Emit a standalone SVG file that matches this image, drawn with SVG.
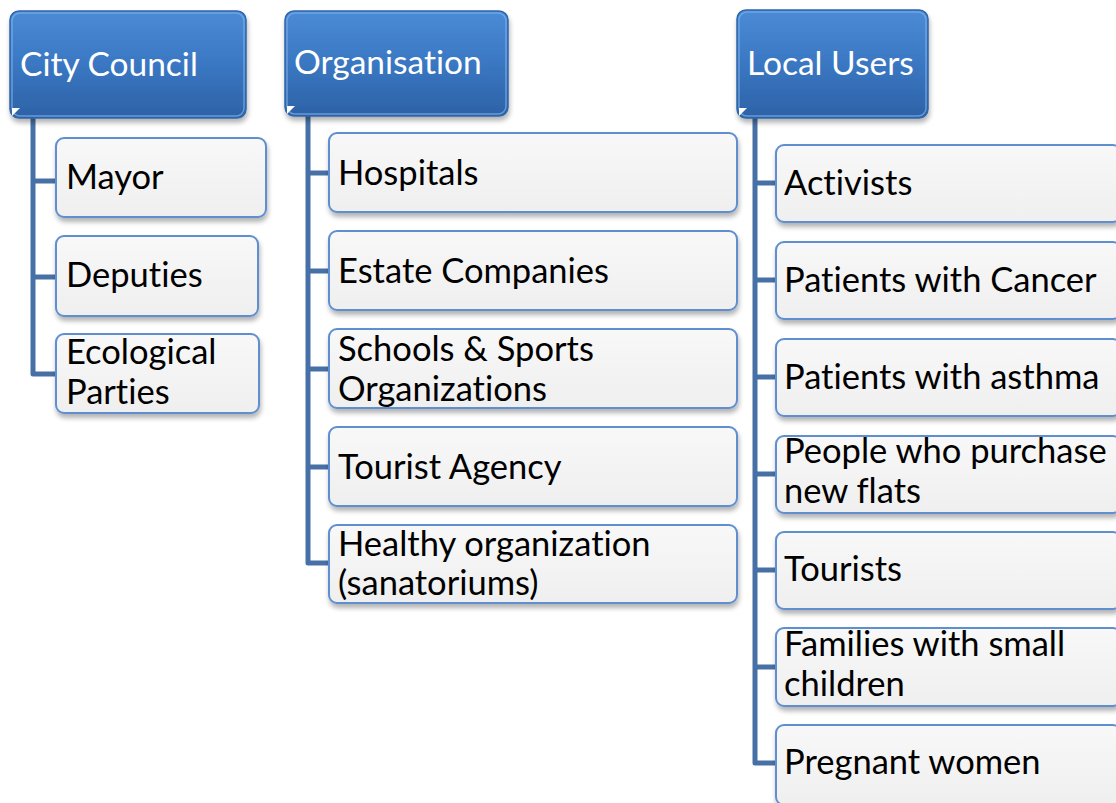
<svg xmlns="http://www.w3.org/2000/svg" width="1116" height="803" viewBox="0 0 1116 803">
  <defs>
    <linearGradient id="hdrFill" x1="0" y1="0" x2="0" y2="1">
      <stop offset="0" stop-color="#4b8bd6"/>
      <stop offset="0.5" stop-color="#3a77c2"/>
      <stop offset="1" stop-color="#2d62a6"/>
    </linearGradient>
    <linearGradient id="itemFill" x1="0" y1="0" x2="0" y2="1">
      <stop offset="0" stop-color="#f8f8f8"/>
      <stop offset="1" stop-color="#efefef"/>
    </linearGradient>
    <filter id="shadow" x="-10%" y="-10%" width="120%" height="130%">
      <feGaussianBlur in="SourceAlpha" stdDeviation="2.5"/>
      <feOffset dx="1" dy="4" result="b"/>
      <feComponentTransfer><feFuncA type="linear" slope="0.3"/></feComponentTransfer>
      <feMerge><feMergeNode/><feMergeNode in="SourceGraphic"/></feMerge>
    </filter>
    <style>
      text { font-variant-ligatures: none; font-feature-settings: "liga" 0, "clig" 0; }
      .hdr rect.box { fill: url(#hdrFill); stroke: #2f66aa; stroke-width: 1.5; filter: url(#shadow); }
      .hdr rect.gloss { fill: none; stroke: #7fb0ea; stroke-width: 1.5; opacity: 0.7; }
      .hdr path.notch { fill: #ffffff; }
      .hdr text { font-family: Lato, "Liberation Sans", sans-serif; font-size: 33.5px; fill: #ffffff; }
      .item rect { fill: url(#itemFill); stroke: #5e8fd0; stroke-width: 2; filter: url(#shadow); }
      .item text { font-family: Lato, "Liberation Sans", sans-serif; font-size: 34.5px; fill: #000000; }
      .links path { fill: none; stroke: #4670a6; stroke-width: 5; stroke-linejoin: round; }
    </style>
  </defs>
  <rect width="1116" height="803" fill="#ffffff"/>

  <!-- tree connectors -->
  <g id="connectors" class="links">
    <path d="M33 118 V374 H56 M33 181 H56 M33 277 H56"/>
    <path d="M308 116 V563 H329 M308 173 H329 M308 271 H329 M308 369 H329 M308 467 H329"/>
    <path d="M755 118 V763 H776 M755 183 H776 M755 280 H776 M755 377 H776 M755 474 H776 M755 570 H776 M755 667 H776"/>
  </g>

  <!-- column headers -->
  <g id="city-council" class="hdr">
    <rect class="box" x="10" y="11" width="236" height="107" rx="9"/>
    <rect class="gloss" x="12" y="13" width="232" height="103" rx="8"/>
    <path class="notch" d="M12 116 L12 108 L20 108 Z"/>
    <text x="20" y="76">City Council</text>
  </g>
  <g id="organisation" class="hdr">
    <rect class="box" x="285" y="11" width="223" height="105" rx="9"/>
    <rect class="gloss" x="287" y="13" width="219" height="101" rx="8"/>
    <path class="notch" d="M287 114 L287 106 L295 106 Z"/>
    <text x="294" y="74">Organisation</text>
  </g>
  <g id="local-users" class="hdr">
    <rect class="box" x="737" y="10" width="191" height="108" rx="9"/>
    <rect class="gloss" x="739" y="12" width="187" height="104" rx="8"/>
    <path class="notch" d="M739 116 L739 108 L747 108 Z"/>
    <text x="747" y="75">Local Users</text>
  </g>

  <!-- City Council members -->
  <g id="mayor" class="item">
    <rect x="56" y="138" width="210" height="79" rx="8"/>
    <text x="66" y="189">Mayor</text>
  </g>
  <g id="deputies" class="item">
    <rect x="56" y="236" width="202" height="80" rx="8"/>
    <text x="66" y="287">Deputies</text>
  </g>
  <g id="ecological-parties" class="item">
    <rect x="56" y="334" width="203" height="79" rx="8"/>
    <text x="66" y="364">Ecological</text>
    <text x="66" y="404">Parties</text>
  </g>

  <!-- Organisations -->
  <g id="hospitals" class="item">
    <rect x="329" y="133" width="408" height="79" rx="8"/>
    <text x="338" y="185">Hospitals</text>
  </g>
  <g id="estate-companies" class="item">
    <rect x="329" y="231" width="408" height="79" rx="8"/>
    <text x="338" y="283">Estate Companies</text>
  </g>
  <g id="schools-sports" class="item">
    <rect x="329" y="329" width="408" height="79" rx="8"/>
    <text x="338" y="361">Schools &amp; Sports</text>
    <text x="338" y="401">Organizations</text>
  </g>
  <g id="tourist-agency" class="item">
    <rect x="329" y="427" width="408" height="79" rx="8"/>
    <text x="338" y="479">Tourist Agency</text>
  </g>
  <g id="healthy-organization" class="item">
    <rect x="329" y="525" width="408" height="78" rx="8"/>
    <text x="338" y="556">Healthy organization</text>
    <text x="338" y="595">(sanatoriums)</text>
  </g>

  <!-- Local users -->
  <g id="activists" class="item">
    <rect x="776" y="145" width="345" height="77" rx="8"/>
    <text x="784" y="195">Activists</text>
  </g>
  <g id="patients-cancer" class="item">
    <rect x="776" y="242" width="345" height="77" rx="8"/>
    <text x="784" y="292">Patients with Cancer</text>
  </g>
  <g id="patients-asthma" class="item">
    <rect x="776" y="339" width="345" height="77" rx="8"/>
    <text x="784" y="389">Patients with asthma</text>
  </g>
  <g id="new-flats" class="item">
    <rect x="776" y="436" width="345" height="77" rx="8"/>
    <text x="784" y="463">People who purchase</text>
    <text x="784" y="503">new flats</text>
  </g>
  <g id="tourists" class="item">
    <rect x="776" y="532" width="345" height="77" rx="8"/>
    <text x="784" y="581">Tourists</text>
  </g>
  <g id="families" class="item">
    <rect x="776" y="628" width="345" height="78" rx="8"/>
    <text x="784" y="656">Families with small</text>
    <text x="784" y="696">children</text>
  </g>
  <g id="pregnant-women" class="item">
    <rect x="776" y="725" width="345" height="80" rx="8"/>
    <text x="784" y="774">Pregnant women</text>
  </g>
</svg>
